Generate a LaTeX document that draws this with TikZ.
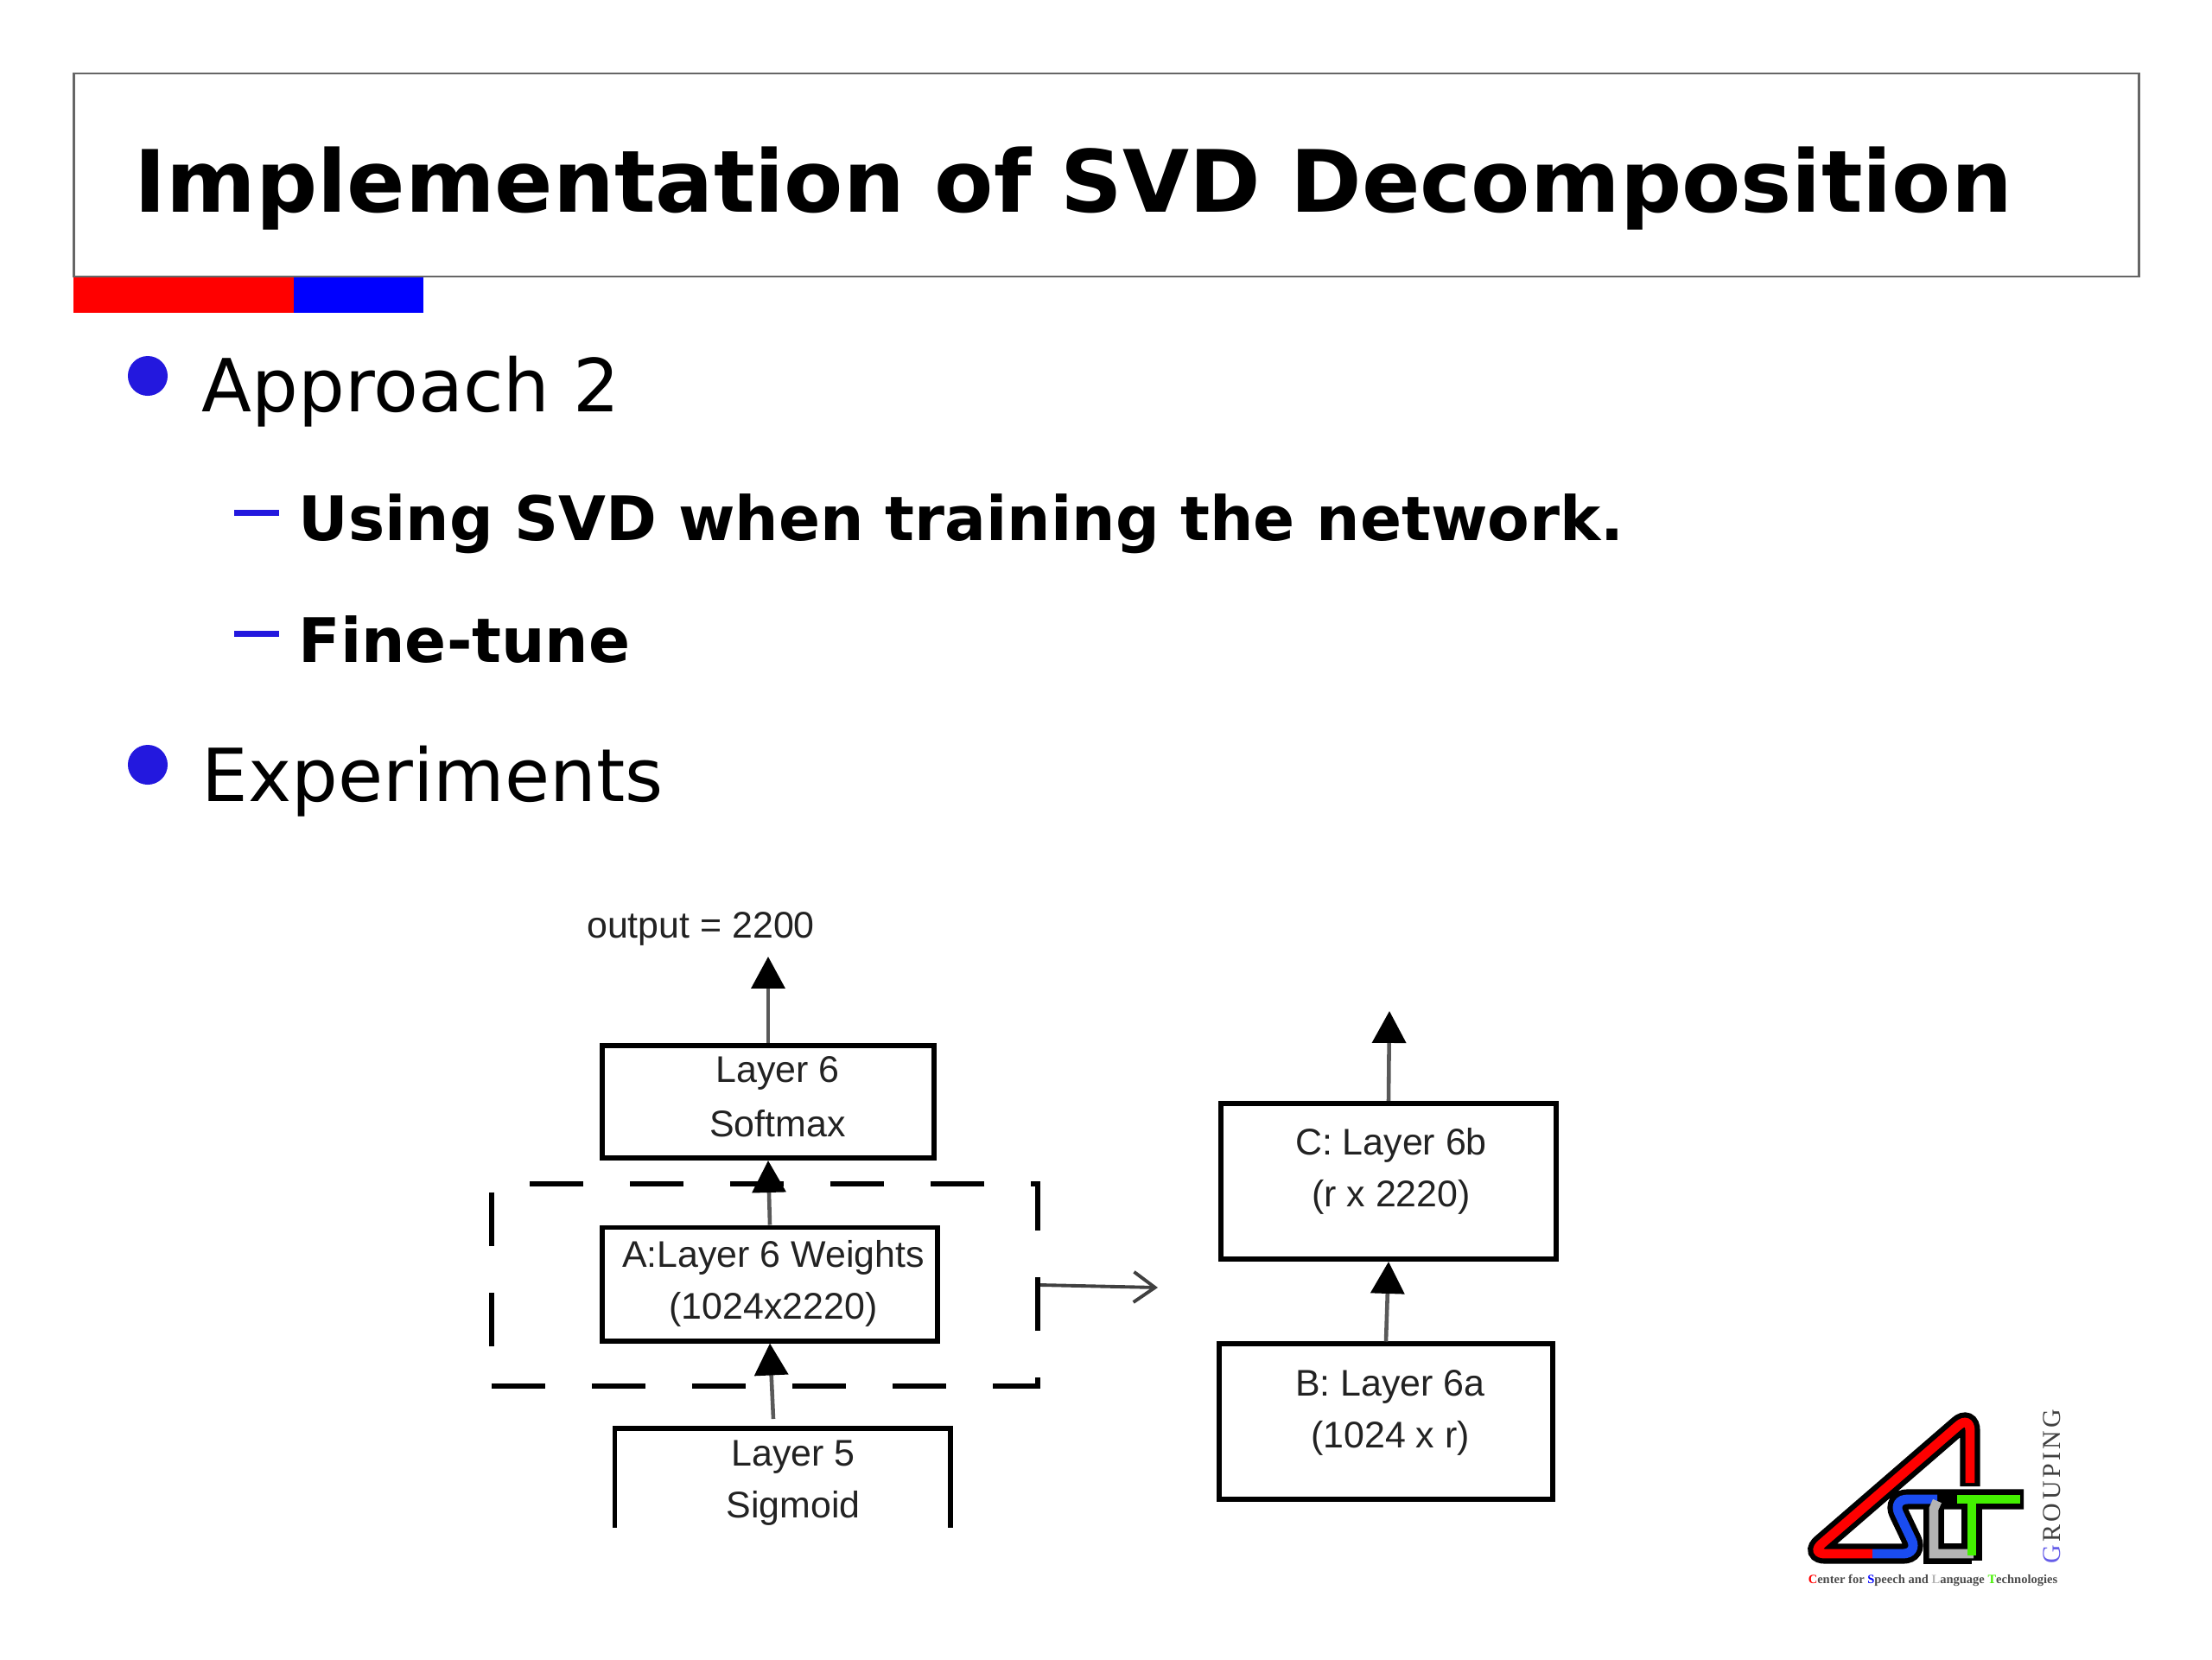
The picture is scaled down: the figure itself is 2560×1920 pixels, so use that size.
\documentclass[tikz,border=0pt]{standalone}
\usepackage{xcolor}
\usepackage{fontspec}
\usepackage{tikz}
\usetikzlibrary{arrows.meta, positioning, calc}
\setmainfont{DejaVu Sans}
\newfontfamily\figfont{Liberation Sans}
\newfontfamily\logofont{Liberation Serif}
\definecolor{bulletblue}{HTML}{2318DE}
\definecolor{logored}{HTML}{FF0000}
\definecolor{logoblue}{HTML}{1A4CF0}
\definecolor{logogray}{HTML}{B4B4B4}
\definecolor{logogreen}{HTML}{44F000}
\definecolor{figink}{HTML}{222222}
\tikzset{
  titletext/.style={anchor=base west, inner sep=0pt, font=\bfseries\fontsize{28.3}{32}\selectfont},
  headtext/.style={anchor=base west, inner sep=0pt, font=\fontsize{24.1}{28}\selectfont},
  subtext/.style={anchor=base west, inner sep=0pt, font=\bfseries\fontsize{20.17}{24}\selectfont},
  bulletdot/.style={circle, fill=bulletblue, inner sep=0pt, minimum size=0.46cm},
  layerbox/.style={draw=black, line width=1.7pt, inner sep=0pt},
  figtext/.style={align=center, inner sep=0pt, text=figink, font=\figfont\fontsize{12.2}{17}\selectfont},
  flow/.style={draw=black!65, line width=1.3pt, -{Triangle[length=10.5pt, width=11pt, black]}},
  logoline/.style={black, line width=6.6pt},
  logofill/.style={line width=3.1pt},
}
\begin{document}
\begin{tikzpicture}[x=0.01cm, y=-0.01cm]
  \useasboundingbox (0,0) rectangle (2560,1920);

  % slide head
  \node[draw=black!60, line width=0.8pt, minimum width=23.88cm, minimum height=2.35cm, inner sep=0pt] (titlebox) at (1280.5,202.5) {};
  \node[titletext] (title) at (155,245) {Implementation of SVD Decomposition};
  \fill[red] (85,321) rectangle (340,362);
  \fill[blue] (340,321) rectangle (490,362);

  % slide text
  \node[bulletdot] (dot1) at (171,435) {};
  \node[headtext] (approach) at (233,476) {Approach 2};
  \fill[bulletblue] (271,590) rectangle (323,597);
  \node[subtext] (usingsvd) at (345,625) {Using SVD when training the network.};
  \fill[bulletblue] (271,730) rectangle (323,737);
  \node[subtext] (finetune) at (345,766) {Fine-tune};
  \node[bulletdot] (dot2) at (171,885) {};
  \node[headtext] (experiments) at (233,927) {Experiments};

  % left stack
  \node[figtext] (output) at (811,1075) {output = 2200};
  \coordinate (outtip) at (889,1107);
  \node[layerbox, minimum width=3.84cm, minimum height=1.30cm] (layer6) at (889,1275) {};
  \node[figtext] (layer6txt) at (900,1269) {Layer 6\\[1pt]Softmax};
  \node[layerbox, minimum width=3.88cm, minimum height=1.31cm] (A) at (891,1486) {};
  \node[figtext] (Atxt) at (895,1485) {A:Layer 6 Weights\\(1024x2220)};
  \draw[line width=1.7pt] (711.5,1768) |- (1100,1653) -- (1100,1768);
  \node[figtext] (layer5txt) at (918,1716) {Layer 5\\Sigmoid};
  \coordinate (from5) at (895,1642);
  \node[draw=black, line width=1.7pt, dash pattern=on 17.6pt off 15.4pt, minimum width=6.32cm, minimum height=2.34cm, inner sep=0pt] (dashbox) at (885,1487) {};

  \draw[flow] (layer6.north) -- (outtip);
  \draw[flow] (A.north) -- (layer6.south);
  \draw[flow] (from5) -- (A.south);

  % right stack
  \node[layerbox, minimum width=3.87cm, minimum height=1.80cm] (C) at (1607,1367) {};
  \node[figtext] (Ctxt) at (1610,1355) {C: Layer 6b\\(r x 2220)};
  \node[layerbox, minimum width=3.85cm, minimum height=1.79cm] (B) at (1604,1645) {};
  \node[figtext] (Btxt) at (1609,1635) {B: Layer 6a\\(1024 x r)};
  \coordinate (ctip) at (1608,1170);
  \draw[flow] (C.north) -- (ctip);
  \draw[flow] (B.north) -- (C.south);

  % link between the stacks
  \coordinate (splittip) at (1340,1490);
  \draw[draw=black!75, line width=1.1pt, -{Straight Barb[length=7pt, width=10pt]}] (1204,1487) -- (splittip);

  % logo
  \draw[logoline, rounded corners=5pt] (2280,1720) -- (2280,1638) -- (2095,1798) -- (2220,1798) -- (2190,1735) -- (2342,1735);
  \draw[logoline] (2238,1735) -- (2238,1798) -- (2282,1798);
  \draw[logoline] (2282,1735) -- (2282,1806);
  \draw[logored, logofill, rounded corners=5pt] (2280,1716) -- (2280,1638) -- (2095,1798) -- (2167,1798);
  \draw[logoblue, logofill, rounded corners=5pt] (2167,1798) -- (2220,1798) -- (2190,1735) -- (2242,1735);
  \draw[logogray, logofill] (2242,1737) -- (2238,1746) -- (2238,1798) -- (2284,1798);
  \draw[logogreen, logofill] (2265,1735) -- (2338,1735) (2282,1735) -- (2282,1800);
  \node[rotate=90, inner sep=0pt, text=black!75, font=\logofont\fontsize{8.5}{9}\selectfont] (grouping) at (2375,1720)
    {{\color{bulletblue!70}G}\kern1pt R\kern1pt O\kern1pt U\kern1pt P\kern1pt I\kern1pt N\kern1pt G};
  \node[inner sep=0pt, text=black!70, font=\logofont\bfseries\fontsize{4.13}{5}\selectfont] (center) at (2237,1829)
    {{\color{red}C}enter for {\color{blue}S}peech and {\color{logogray}L}anguage {\color{logogreen}T}echnologies};
\end{tikzpicture}
\end{document}
